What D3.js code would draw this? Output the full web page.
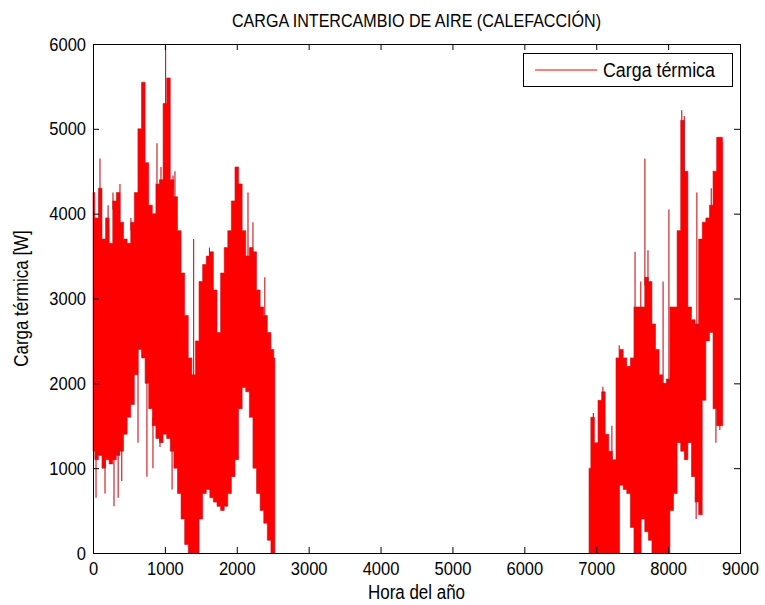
<!DOCTYPE html>
<html>
<head>
<meta charset="utf-8">
<script src="https://cdn.jsdelivr.net/npm/d3@7/dist/d3.min.js"></script>
<style>
  body { margin: 0; background: #fff; }
  text { font-family: "Liberation Sans", Arial, sans-serif; fill: #000; }
</style>
</head>
<body>
<svg id="chart" width="765" height="605"></svg>
<script>
// Hourly heating load from air exchange. Each season is kept as the reach of
// the daily swing (upper / lower) read every 50 hours, plus the isolated
// peaks and troughs that stick out of that band.
const earlyHours = [0,50,100,150,200,250,300,350,400,450,500,550,600,650,700,750,800,850,900,950,
  1000,1050,1100,1150,1200,1250,1300,1350,1400,1450,1500,1550,1600,1650,1700,1750,1800,1850,1900,1950,
  2000,2050,2100,2150,2200,2250,2300,2350,2400,2450,2500,2530];
const earlyUpper = [4250,3950,4300,3700,3950,3650,4150,4250,3900,3700,3650,3900,4250,5000,5550,4600,4100,4000,4350,4400,
  5300,5600,4400,4200,3800,3300,2800,2300,2100,2500,3200,3400,3500,3550,3100,2600,3300,3600,3800,4150,
  4550,4350,3800,3500,3600,3550,3100,2900,2800,2600,2400,2300];
const earlyLower = [1200,1100,1150,1000,1100,1050,1100,1150,1200,1400,1600,1750,2100,2400,2300,2000,1700,1500,1350,1300,
  1400,1350,1200,1000,700,400,100,0,0,0,400,700,750,650,600,550,500,550,700,900,
  1100,1700,1950,1900,1600,1000,700,500,350,150,0,0];

const lateHours = [6900,6950,7000,7050,7100,7150,7200,7250,7300,7350,7400,7450,7500,7550,7600,7650,7700,7750,7800,7850,
  7900,7950,8000,8050,8100,8150,8200,8250,8300,8350,8400,8450,8500,8550,8600,8650,8700,8750,8760];
const lateUpper = [1000,1600,1300,1800,1900,1400,1200,1100,2300,2400,2300,2200,2300,2900,2900,2900,3250,3200,2700,2400,
  2100,2000,2050,2900,2900,3800,5100,4500,2900,2750,2700,3700,3900,3950,4100,4500,4900,4900,4850];
const lateLower = [0,0,0,0,0,0,0,0,0,800,750,700,300,0,0,400,250,150,0,0,
  0,0,0,500,700,1300,1200,1100,1300,900,600,450,1800,2500,2600,1700,1500,1500,1500];

// Isolated hourly peaks above the band and troughs below it.
const peakHours  = [97,210,278,375,528,890,946,1010,1113,1140,1400,1620,1905,2156,2225,2390,
  6960,7093,7218,7320,7540,7620,7677,7720,7930,8011,8190,8225,8400,8600];
const peakValues = [4650,4100,4250,4350,3950,4830,4550,5980,4450,4500,3700,3600,3750,4250,3900,3250,
  1650,1960,1500,2450,3550,3200,4650,3570,3200,4050,5220,5150,4250,4300];
const troughHours  = [42,167,292,350,400,626,750,834,932,1100,8390,8665,8720];
const troughValues = [650,700,550,650,850,1300,900,1000,1250,750,400,1300,1450];

const xTicks = [0,1000,2000,3000,4000,5000,6000,7000,8000,9000];
const yTicks = [0,1000,2000,3000,4000,5000,6000];

const titleText  = "CARGA INTERCAMBIO DE AIRE (CALEFACCIÓN)";
const xLabelText = "Hora del año";
const yLabelText = "Carga térmica [W]";
const legendText = "Carga térmica";

const svg = d3.select("#chart");
const plotLeft = 93, plotRight = 740, plotTop = 44, plotBottom = 553;
const x = d3.scaleLinear().domain([0, 9000]).range([plotLeft, plotRight]);
const y = d3.scaleLinear().domain([0, 6000]).range([plotBottom, plotTop]);

const RED = "#ff0000", EDGE = "#c8141a";
const NARROW = 0.87;   // narrow glyphs of the figure font

// Load bands
const seasons = [
  earlyHours.map((h, i) => ({h, hi: earlyUpper[i], lo: earlyLower[i]})),
  lateHours.map((h, i) => ({h, hi: lateUpper[i], lo: lateLower[i]}))
];
const band = d3.area().curve(d3.curveStep)
  .x(d => x(d.h)).y0(d => y(d.lo)).y1(d => y(d.hi));
const plot = svg.append("g");
plot.selectAll("path.band").data(seasons).join("path")
  .attr("class", "band")
  .attr("d", band)
  .attr("fill", RED)
  .attr("stroke", EDGE)
  .attr("stroke-width", 0.6);

// Envelope value of the band at an arbitrary hour (nearest reading)
function bandAt(h, key) {
  const s = seasons.find(s => h >= s[0].h && h <= s[s.length - 1].h);
  const i = d3.bisector(d => d.h).center(s, h);
  return s[i][key];
}

plot.selectAll("line.peak").data(peakHours).join("line")
  .attr("class", "peak")
  .attr("x1", h => x(h)).attr("x2", h => x(h))
  .attr("y1", (h, i) => y(peakValues[i]))
  .attr("y2", h => y(bandAt(h, "hi") - 100))
  .attr("stroke", EDGE).attr("stroke-width", 1.1);

plot.selectAll("line.trough").data(troughHours).join("line")
  .attr("class", "trough")
  .attr("x1", h => x(h)).attr("x2", h => x(h))
  .attr("y1", (h, i) => y(troughValues[i]))
  .attr("y2", h => y(bandAt(h, "lo") + 100))
  .attr("stroke", EDGE).attr("stroke-width", 1.1);

// Axes with inward ticks on all four sides
const tick = 6;
const fmt = d3.format("d");
const axisStyle = g => {
  g.select(".domain").remove();
  g.selectAll("line").attr("stroke", "#000");
  g.selectAll("text")
    .attr("font-size", 19)
    .attr("transform", `scale(${NARROW},1)`)
    .style("font-family", '"Liberation Sans", Arial, sans-serif');
};
svg.append("g").attr("transform", `translate(0,${plotBottom})`)
  .call(d3.axisBottom(x).tickValues(xTicks).tickFormat(fmt).tickSize(-tick).tickPadding(9))
  .call(axisStyle);
svg.append("g").attr("transform", `translate(0,${plotTop})`)
  .call(d3.axisTop(x).tickValues(xTicks).tickFormat("").tickSize(-tick))
  .call(axisStyle);
svg.append("g").attr("transform", `translate(${plotLeft},0)`)
  .call(d3.axisLeft(y).tickValues(yTicks).tickFormat(fmt).tickSize(-tick).tickPadding(8))
  .call(axisStyle);
svg.append("g").attr("transform", `translate(${plotRight},0)`)
  .call(d3.axisRight(y).tickValues(yTicks).tickFormat("").tickSize(-tick))
  .call(axisStyle);

svg.append("rect")
  .attr("x", plotLeft + 0.5).attr("y", plotTop + 0.5)
  .attr("width", plotRight - plotLeft).attr("height", plotBottom - plotTop)
  .attr("fill", "none").attr("stroke", "#000").attr("stroke-width", 1);

// Titles
const midX = (plotLeft + plotRight) / 2;
svg.append("text")
  .attr("transform", `translate(${midX},27) scale(${NARROW},1)`)
  .attr("text-anchor", "middle").attr("font-size", 18.5)
  .text(titleText);
svg.append("text")
  .attr("transform", `translate(${midX},599) scale(${NARROW},1)`)
  .attr("text-anchor", "middle").attr("font-size", 19.5)
  .text(xLabelText);
svg.append("text")
  .attr("transform", `translate(28,${(plotTop + plotBottom) / 2}) rotate(-90) scale(${NARROW},1)`)
  .attr("text-anchor", "middle").attr("font-size", 19.5)
  .text(yLabelText);

// Legend
const lg = svg.append("g").attr("transform", "translate(523,53)");
lg.append("rect").attr("x", 0.5).attr("y", 0.5).attr("width", 209).attr("height", 33)
  .attr("fill", "#fff").attr("stroke", "#000");
lg.append("line").attr("x1", 12).attr("x2", 74).attr("y1", 17).attr("y2", 17)
  .attr("stroke", RED).attr("stroke-width", 1);
lg.append("text").attr("transform", `translate(80,24) scale(${NARROW},1)`)
  .attr("font-size", 20.5).text(legendText);
</script>
</body>
</html>
